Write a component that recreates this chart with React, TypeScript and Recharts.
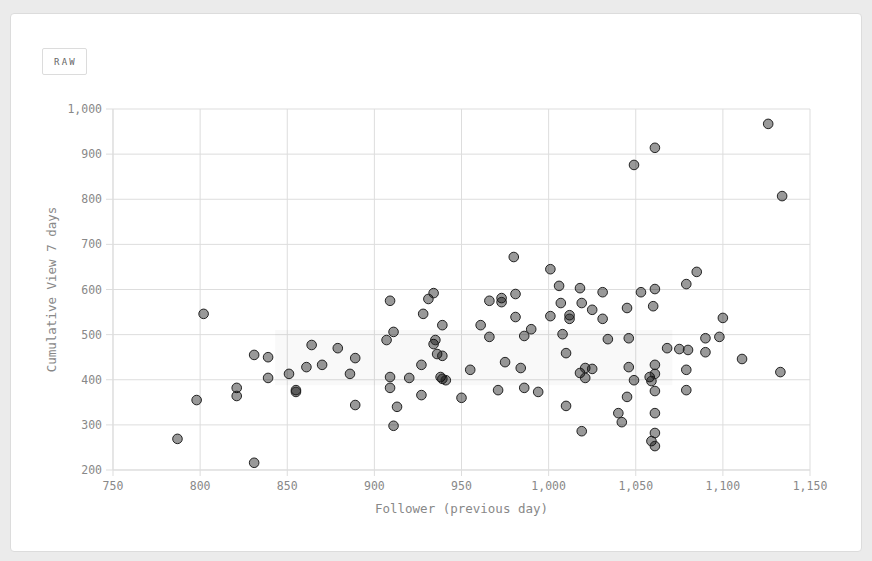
import React from 'react';
import {
  ScatterChart,
  Scatter,
  XAxis,
  YAxis,
  CartesianGrid,
  ReferenceArea,
} from 'recharts';

const followers: number[] = [
  787, 798, 802, 821, 821, 831, 831, 839, 839, 851, 855, 855, 861, 864, 870, 879, 886, 889, 889,
  907, 909, 909, 909, 911, 911, 913, 920, 927, 927, 928, 931, 934, 934, 935, 936, 939, 939, 938,
  939, 941, 950, 955, 961, 966, 966, 971, 973, 973, 975, 980, 981, 981, 984, 986, 986, 990, 994,
  1001, 1001, 1006, 1007, 1008, 1010, 1010, 1012, 1012, 1018, 1018, 1019, 1019, 1021, 1021, 1025,
  1025, 1031, 1031, 1034, 1040, 1042, 1045, 1045, 1046, 1046, 1049, 1049, 1053, 1058, 1059, 1059,
  1060, 1061, 1061, 1061, 1061, 1061, 1061, 1061, 1061, 1068, 1075, 1080, 1079, 1079, 1079, 1085,
  1090, 1090, 1098, 1100, 1111, 1126, 1134, 1133,
];

const views7d: number[] = [
  269, 355, 546, 382, 364, 455, 216, 450, 404, 413, 377, 373, 428, 477, 433, 470, 413, 448, 344,
  488, 575, 406, 382, 506, 298, 340, 404, 366, 433, 546, 579, 592, 479, 488, 457, 521, 453, 406,
  402, 399, 360, 422, 521, 495, 575, 377, 581, 572, 439, 672, 590, 539, 426, 497, 382, 512, 373,
  645, 541, 608, 570, 501, 459, 342, 543, 535, 415, 603, 570, 286, 426, 404, 555, 424,
  535, 594, 490, 326, 306, 559, 362, 492, 428, 399, 876, 594, 406, 264, 397,
  563, 914, 601, 433, 413, 375, 326, 282, 253, 470, 468, 466, 612, 422, 377, 639,
  492, 461, 495, 537, 446, 967, 807, 417,
];

const xTicks: number[] = [750, 800, 850, 900, 950, 1000, 1050, 1100, 1150];
const yTicks: number[] = [200, 300, 400, 500, 600, 700, 800, 900, 1000];
const highlightX: number[] = [843, 1071];
const highlightY: number[] = [388, 510];

const points = followers.map((f, i) => ({ x: f, y: views7d[i] }));

const MONO = '"DejaVu Sans Mono", "Liberation Mono", monospace';
const fmt = (v: number) => v.toLocaleString('en-US');

const Dot = (props: any) => {
  const { cx, cy } = props;
  if (cx == null || cy == null) return null;
  return (
    <circle
      cx={cx}
      cy={cy}
      r={4.8}
      fill="#000"
      fillOpacity={0.4}
      stroke="#222"
      strokeWidth={1}
    />
  );
};

export default function App() {
  return (
    <div
      style={{
        position: 'absolute',
        left: 0,
        top: 0,
        width: 872,
        height: 561,
        background: '#ebebeb',
        overflow: 'hidden',
      }}
    >
      <div
        style={{
          position: 'absolute',
          left: 10,
          top: 13,
          width: 850,
          height: 537,
          background: '#fff',
          border: '1px solid #dcdcdc',
          borderRadius: 4,
        }}
      />
      <div
        style={{
          position: 'absolute',
          left: 42,
          top: 48,
          width: 45,
          height: 27,
          border: '1px solid #dcdcdc',
          borderRadius: 2,
          background: '#fff',
          fontFamily: MONO,
          fontSize: 9,
          letterSpacing: 2.2,
          color: '#666',
          display: 'flex',
          alignItems: 'center',
          justifyContent: 'center',
          paddingLeft: 2,
          boxSizing: 'border-box',
        }}
      >
        RAW
      </div>
      <div style={{ position: 'absolute', left: 0, top: 0 }}>
        <ScatterChart
          width={872}
          height={561}
          margin={{ top: 109, right: 62, left: 43, bottom: 43 }}
        >
          <CartesianGrid stroke="#dddddd" />
          <ReferenceArea
            x1={highlightX[0]}
            x2={highlightX[1]}
            y1={highlightY[0]}
            y2={highlightY[1]}
            fill="#000"
            fillOpacity={0.025}
            stroke="none"
          />
          <XAxis
            type="number"
            dataKey="x"
            domain={[750, 1150]}
            ticks={xTicks}
            tickFormatter={fmt}
            height={48}
            tickSize={6}
            tickMargin={6}
            axisLine={{ stroke: '#dddddd' }}
            tickLine={{ stroke: '#dddddd' }}
            tick={{ fill: '#888', fontSize: 11.5, fontFamily: MONO }}
            label={{
              value: 'Follower (previous day)',
              position: 'insideBottom',
              offset: 5,
              fill: '#888',
              fontSize: 12.5,
              fontFamily: MONO,
            }}
          />
          <YAxis
            type="number"
            dataKey="y"
            domain={[200, 1000]}
            ticks={yTicks}
            tickFormatter={fmt}
            width={70}
            tickSize={7}
            tickMargin={4}
            axisLine={{ stroke: '#dddddd' }}
            tickLine={{ stroke: '#dddddd' }}
            tick={{ fill: '#888', fontSize: 11.5, fontFamily: MONO }}
            label={{
              value: 'Cumulative View 7 days',
              angle: -90,
              position: 'insideLeft',
              offset: 9,
              fill: '#888',
              fontSize: 12.5,
              fontFamily: MONO,
              style: { textAnchor: 'middle' },
            }}
          />
          <Scatter data={points} shape={Dot} isAnimationActive={false} />
        </ScatterChart>
      </div>
    </div>
  );
}
